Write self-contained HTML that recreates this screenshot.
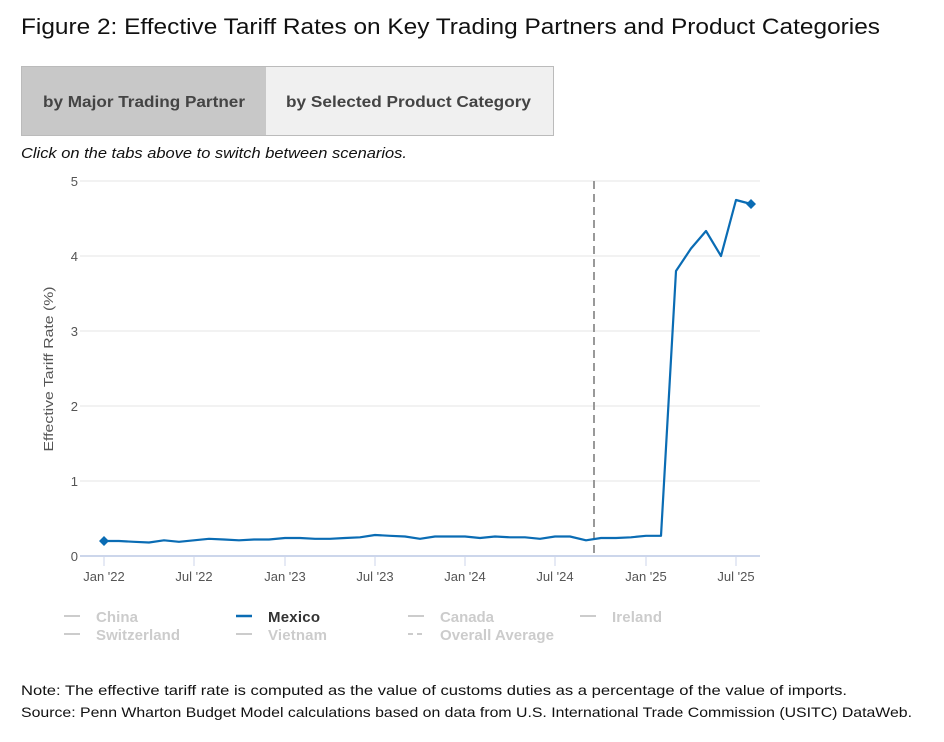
<!DOCTYPE html>
<html><head><meta charset="utf-8"><style>
body{margin:0;background:#fff;width:944px;height:742px;overflow:hidden;font-family:"Liberation Sans",sans-serif;}
.tabs{position:absolute;left:21px;top:66px;width:531px;height:68px;border:1px solid #bbb;display:flex;}
.tab{height:68px;}
</style></head><body>
<div class="tabs"><div class="tab" style="width:244px;background:#c8c8c8"></div><div class="tab" style="flex:1;background:#f0f0f0"></div></div>
<svg width="944" height="742" style="position:absolute;left:0;top:0" font-family="Liberation Sans, sans-serif">
<text x="21" y="34" font-size="22" fill="#111" textLength="859" lengthAdjust="spacingAndGlyphs">Figure 2: Effective Tariff Rates on Key Trading Partners and Product Categories</text>
<text x="43" y="107" font-size="16" font-weight="bold" fill="#444" textLength="202" lengthAdjust="spacingAndGlyphs">by Major Trading Partner</text>
<text x="286" y="107" font-size="16" font-weight="bold" fill="#444" textLength="245" lengthAdjust="spacingAndGlyphs">by Selected Product Category</text>
<text x="21" y="158" font-size="14.5" font-style="italic" fill="#111" textLength="386" lengthAdjust="spacingAndGlyphs">Click on the tabs above to switch between scenarios.</text>
<g stroke="#e6e6e6" stroke-width="1">
<line x1="80" x2="760" y1="181" y2="181"/><line x1="80" x2="760" y1="256" y2="256"/><line x1="80" x2="760" y1="331" y2="331"/><line x1="80" x2="760" y1="406" y2="406"/><line x1="80" x2="760" y1="481" y2="481"/>
</g>
<line x1="80" x2="760" y1="556" y2="556" stroke="#ccd6eb" stroke-width="2"/>
<g stroke="#ccd6eb"><line x1="104" x2="104" y1="556" y2="566"/><line x1="194" x2="194" y1="556" y2="566"/><line x1="285" x2="285" y1="556" y2="566"/><line x1="375" x2="375" y1="556" y2="566"/><line x1="465" x2="465" y1="556" y2="566"/><line x1="555" x2="555" y1="556" y2="566"/><line x1="646" x2="646" y1="556" y2="566"/><line x1="736" x2="736" y1="556" y2="566"/></g>
<g font-size="13" fill="#555" text-anchor="end"><text x="78" y="186">5</text><text x="78" y="261">4</text><text x="78" y="336">3</text><text x="78" y="411">2</text><text x="78" y="486">1</text><text x="78" y="561">0</text></g>
<g font-size="13" fill="#555" text-anchor="middle"><text x="104" y="581">Jan '22</text><text x="194" y="581">Jul '22</text><text x="285" y="581">Jan '23</text><text x="375" y="581">Jul '23</text><text x="465" y="581">Jan '24</text><text x="555" y="581">Jul '24</text><text x="646" y="581">Jan '25</text><text x="736" y="581">Jul '25</text></g>
<text transform="translate(53,369) rotate(-90)" font-size="13" fill="#555" text-anchor="middle" textLength="165" lengthAdjust="spacingAndGlyphs">Effective Tariff Rate (%)</text>
<line x1="594" x2="594" y1="181" y2="556" stroke="#999" stroke-width="2" stroke-dasharray="8,5"/>
<polyline fill="none" stroke="#0a6cb4" stroke-width="2.2" stroke-linejoin="round" points="104,541 119,541 134,541.8 149,542.5 164,540.3 179,541.8 194,540.3 209,538.8 224,539.5 239,540.3 254,539.5 269,539.5 285,538 300,538 315,538.8 330,538.8 345,538 360,537.3 375,535 390,535.8 405,536.5 420,538.8 435,536.5 450,536.5 465,536.5 480,538 495,536.5 510,537.3 525,537.3 540,538.8 555,536.5 570,536.5 586,540.3 601,538 616,538 631,537.3 646,535.8 661,535.8 676,271 691,248.5 706,231 721,256 736,200 751,204"/>
<path d="M104,536 L109,541 L104,546 L99,541Z M751,199 L756,204 L751,209 L746,204Z" fill="#0a6cb4"/>
<g font-size="15" font-weight="bold" fill="#ccc" lengthAdjust="spacingAndGlyphs">
<line x1="64" x2="80" y1="616" y2="616" stroke="#ccc" stroke-width="2"/><text x="96" y="622" textLength="42">China</text>
<line x1="236" x2="252" y1="616" y2="616" stroke="#0a6cb4" stroke-width="2.5"/><text x="268" y="622" fill="#333" textLength="52">Mexico</text>
<line x1="408" x2="424" y1="616" y2="616" stroke="#ccc" stroke-width="2"/><text x="440" y="622" textLength="54">Canada</text>
<line x1="580" x2="596" y1="616" y2="616" stroke="#ccc" stroke-width="2"/><text x="612" y="622" textLength="50">Ireland</text>
<line x1="64" x2="80" y1="634" y2="634" stroke="#ccc" stroke-width="2"/><text x="96" y="640" textLength="84">Switzerland</text>
<line x1="236" x2="252" y1="634" y2="634" stroke="#ccc" stroke-width="2"/><text x="268" y="640" textLength="59">Vietnam</text>
<line x1="408" x2="424" y1="634" y2="634" stroke="#ccc" stroke-width="2" stroke-dasharray="5,4"/><text x="440" y="640" textLength="114">Overall Average</text>
</g>
<text x="21" y="695" font-size="14" fill="#111" textLength="826" lengthAdjust="spacingAndGlyphs">Note: The effective tariff rate is computed as the value of customs duties as a percentage of the value of imports.</text>
<text x="21" y="717" font-size="14" fill="#111" textLength="891" lengthAdjust="spacingAndGlyphs">Source: Penn Wharton Budget Model calculations based on data from U.S. International Trade Commission (USITC) DataWeb.</text>
</svg>
</body></html>
